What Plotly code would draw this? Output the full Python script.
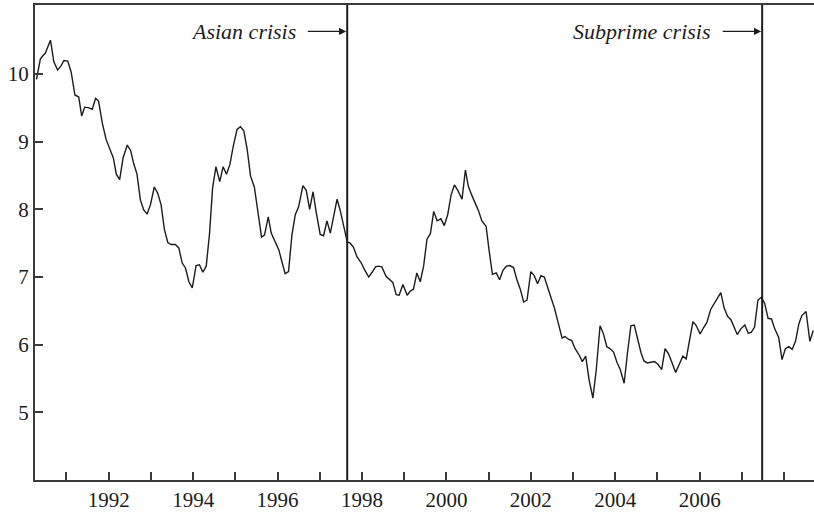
import plotly.graph_objects as go

# Time (decimal years) and series values
years = [
    1990.29, 1990.38, 1990.44, 1990.50, 1990.62, 1990.70, 1990.79, 1990.87, 1990.94, 1991.03,
    1991.11, 1991.20, 1991.29, 1991.36, 1991.43, 1991.53, 1991.61, 1991.69, 1991.76, 1991.85,
    1991.94, 1992.03, 1992.11, 1992.18, 1992.26, 1992.34, 1992.44, 1992.52, 1992.59, 1992.67,
    1992.75, 1992.83, 1992.91, 1992.99, 1993.08, 1993.16, 1993.24, 1993.32, 1993.40, 1993.48,
    1993.58, 1993.66, 1993.74, 1993.82, 1993.90, 1993.98, 1994.07, 1994.15, 1994.23, 1994.31,
    1994.39, 1994.46, 1994.54, 1994.63, 1994.71, 1994.79, 1994.87, 1994.95, 1995.04, 1995.12,
    1995.20, 1995.28, 1995.36, 1995.45, 1995.53, 1995.62, 1995.69, 1995.78, 1995.85, 1995.95,
    1996.03, 1996.11, 1996.18, 1996.26, 1996.34, 1996.42, 1996.50, 1996.60, 1996.68, 1996.76,
    1996.84, 1996.92, 1997.01, 1997.09, 1997.17, 1997.25, 1997.33, 1997.41, 1997.49, 1997.57,
    1997.65, 1997.72, 1997.80, 1997.88, 1997.98, 1998.06, 1998.16, 1998.24, 1998.32, 1998.39,
    1998.47, 1998.57, 1998.65, 1998.73, 1998.81, 1998.88, 1998.97, 1999.07, 1999.14, 1999.22,
    1999.30, 1999.38, 1999.46, 1999.54, 1999.62, 1999.70, 1999.78, 1999.87, 1999.95, 2000.03,
    2000.11, 2000.19, 2000.27, 2000.37, 2000.45, 2000.52, 2000.60, 2000.68, 2000.76, 2000.84,
    2000.94, 2001.01, 2001.09, 2001.18, 2001.26, 2001.34, 2001.42, 2001.50, 2001.59, 2001.67,
    2001.75, 2001.83, 2001.91, 2002.00, 2002.08, 2002.16, 2002.24, 2002.32, 2002.40, 2002.48,
    2002.56, 2002.62, 2002.68, 2002.74, 2002.81, 2002.89, 2002.97, 2003.05, 2003.15, 2003.22,
    2003.30, 2003.38, 2003.47, 2003.55, 2003.64, 2003.72, 2003.80, 2003.88, 2003.96, 2004.04,
    2004.12, 2004.21, 2004.29, 2004.37, 2004.45, 2004.53, 2004.61, 2004.68, 2004.76, 2004.84,
    2004.93, 2005.01, 2005.10, 2005.18, 2005.26, 2005.34, 2005.43, 2005.51, 2005.60, 2005.68,
    2005.76, 2005.84, 2005.91, 2006.01, 2006.09, 2006.17, 2006.26, 2006.34, 2006.42, 2006.50,
    2006.58, 2006.66, 2006.74, 2006.81, 2006.89, 2006.97, 2007.07, 2007.15, 2007.22, 2007.30,
    2007.38, 2007.46, 2007.54, 2007.62, 2007.70, 2007.78, 2007.87, 2007.95, 2008.03, 2008.11,
    2008.19, 2008.27, 2008.35, 2008.42, 2008.52, 2008.61, 2008.69,
]
values = [
    9.92, 10.22, 10.27, 10.31, 10.50, 10.18, 10.06, 10.12, 10.20, 10.19,
    10.03, 9.69, 9.66, 9.38, 9.51, 9.50, 9.48, 9.64, 9.60, 9.27,
    9.03, 8.88, 8.76, 8.52, 8.44, 8.76, 8.95, 8.87, 8.68, 8.52,
    8.14, 7.99, 7.93, 8.07, 8.33, 8.24, 8.07, 7.70, 7.51, 7.48,
    7.48, 7.43, 7.21, 7.13, 6.93, 6.84, 7.17, 7.18, 7.07, 7.16,
    7.65, 8.31, 8.63, 8.41, 8.63, 8.52, 8.66, 8.93, 9.18, 9.22,
    9.16, 8.89, 8.49, 8.33, 7.97, 7.59, 7.62, 7.89, 7.65, 7.50,
    7.40, 7.21, 7.05, 7.08, 7.62, 7.92, 8.04, 8.35, 8.28, 8.00,
    8.26, 7.94, 7.63, 7.61, 7.83, 7.65, 7.92, 8.15, 7.97, 7.75,
    7.52, 7.50, 7.44, 7.30, 7.21, 7.11, 7.00, 7.07, 7.15, 7.16,
    7.15, 7.01, 6.96, 6.92, 6.74, 6.73, 6.89, 6.73, 6.79, 6.82,
    7.06, 6.93, 7.16, 7.56, 7.64, 7.97, 7.83, 7.86, 7.76, 7.92,
    8.21, 8.36, 8.28, 8.15, 8.58, 8.34, 8.21, 8.10, 7.98, 7.83,
    7.75, 7.40, 7.04, 7.06, 6.96, 7.10, 7.16, 7.17, 7.14, 6.96,
    6.82, 6.63, 6.66, 7.08, 7.02, 6.90, 7.02, 7.00, 6.86, 6.69,
    6.54, 6.39, 6.22, 6.10, 6.12, 6.08, 6.06, 5.94, 5.84, 5.75,
    5.83, 5.48, 5.21, 5.63, 6.28, 6.16, 5.97, 5.94, 5.89, 5.74,
    5.63, 5.43, 5.88, 6.28, 6.29, 6.08, 5.88, 5.76, 5.73, 5.74,
    5.75, 5.71, 5.63, 5.94, 5.87, 5.74, 5.59, 5.70, 5.83, 5.79,
    6.07, 6.34, 6.29, 6.16, 6.25, 6.33, 6.52, 6.61, 6.69, 6.77,
    6.54, 6.42, 6.37, 6.26, 6.15, 6.23, 6.29, 6.17, 6.18, 6.26,
    6.66, 6.70, 6.61, 6.39, 6.38, 6.23, 6.11, 5.78, 5.94, 5.97,
    5.93, 6.05, 6.31, 6.43, 6.49, 6.05, 6.21,
]

crisis_labels = ["Asian crisis", "Subprime crisis"]
crisis_dates = [1997.65, 2007.48]

x_tick_years = list(range(1991, 2009))
x_labelled_years = [1992, 1994, 1996, 1998, 2000, 2002, 2004, 2006]
x_tick_text = [str(y) if y in x_labelled_years else "" for y in x_tick_years]
y_tick_vals = [5, 6, 7, 8, 9, 10]

INK = "#1c1c1c"
AXIS = "#3a3a3a"
FONT = "Liberation Serif, Times New Roman, Times, serif"

fig = go.Figure()
fig.add_trace(go.Scatter(
    x=years, y=values, mode="lines",
    line=dict(color=INK, width=1.4),
    hoverinfo="skip", showlegend=False,
))

x_range = [1990.254, 2008.708]
y_range = [4.0, 11.02]
label_y = 10.63
arrow_len = 0.97   # years from arrow tail to the crisis line
text_gap = 0.19    # years between text end and arrow tail

for name, d in zip(crisis_labels, crisis_dates):
    fig.add_shape(type="line", xref="x", yref="paper", x0=d, x1=d, y0=0, y1=1,
                  line=dict(color=INK, width=2))
    fig.add_annotation(x=d, y=label_y, xref="x", yref="y",
                       ax=d - arrow_len, ay=label_y, axref="x", ayref="y",
                       text="", showarrow=True, arrowhead=2, arrowsize=1.1,
                       arrowwidth=1.3, arrowcolor=INK, standoff=1)
    fig.add_annotation(x=d - arrow_len - text_gap, y=label_y, xref="x", yref="y",
                       text="<i>%s</i>" % name, showarrow=False,
                       xanchor="right", yanchor="middle",
                       font=dict(family=FONT, size=22, color=INK))

fig.update_layout(
    width=814, height=512,
    margin=dict(l=35, r=0, t=5, b=32),
    paper_bgcolor="white", plot_bgcolor="white",
    font=dict(family=FONT, size=21, color=INK),
    showlegend=False,
)
fig.update_xaxes(
    range=x_range, tickmode="array", tickvals=x_tick_years, ticktext=x_tick_text,
    ticks="inside", ticklen=8, tickwidth=1.5, tickcolor=AXIS,
    showline=True, linecolor=AXIS, linewidth=2, mirror=True,
    showgrid=False, zeroline=False,
    tickfont=dict(family=FONT, size=21, color=INK),
)
fig.update_yaxes(
    range=y_range, tickmode="array", tickvals=y_tick_vals,
    ticks="inside", ticklen=8, tickwidth=1.5, tickcolor=AXIS,
    showline=True, linecolor=AXIS, linewidth=2, mirror=False,
    showgrid=False, zeroline=False,
    tickfont=dict(family=FONT, size=21, color=INK),
)

fig.write_html(
    "out.html",
    config={"displayModeBar": False},
    post_script="document.body.style.margin='0';document.body.style.padding='0';",
)
